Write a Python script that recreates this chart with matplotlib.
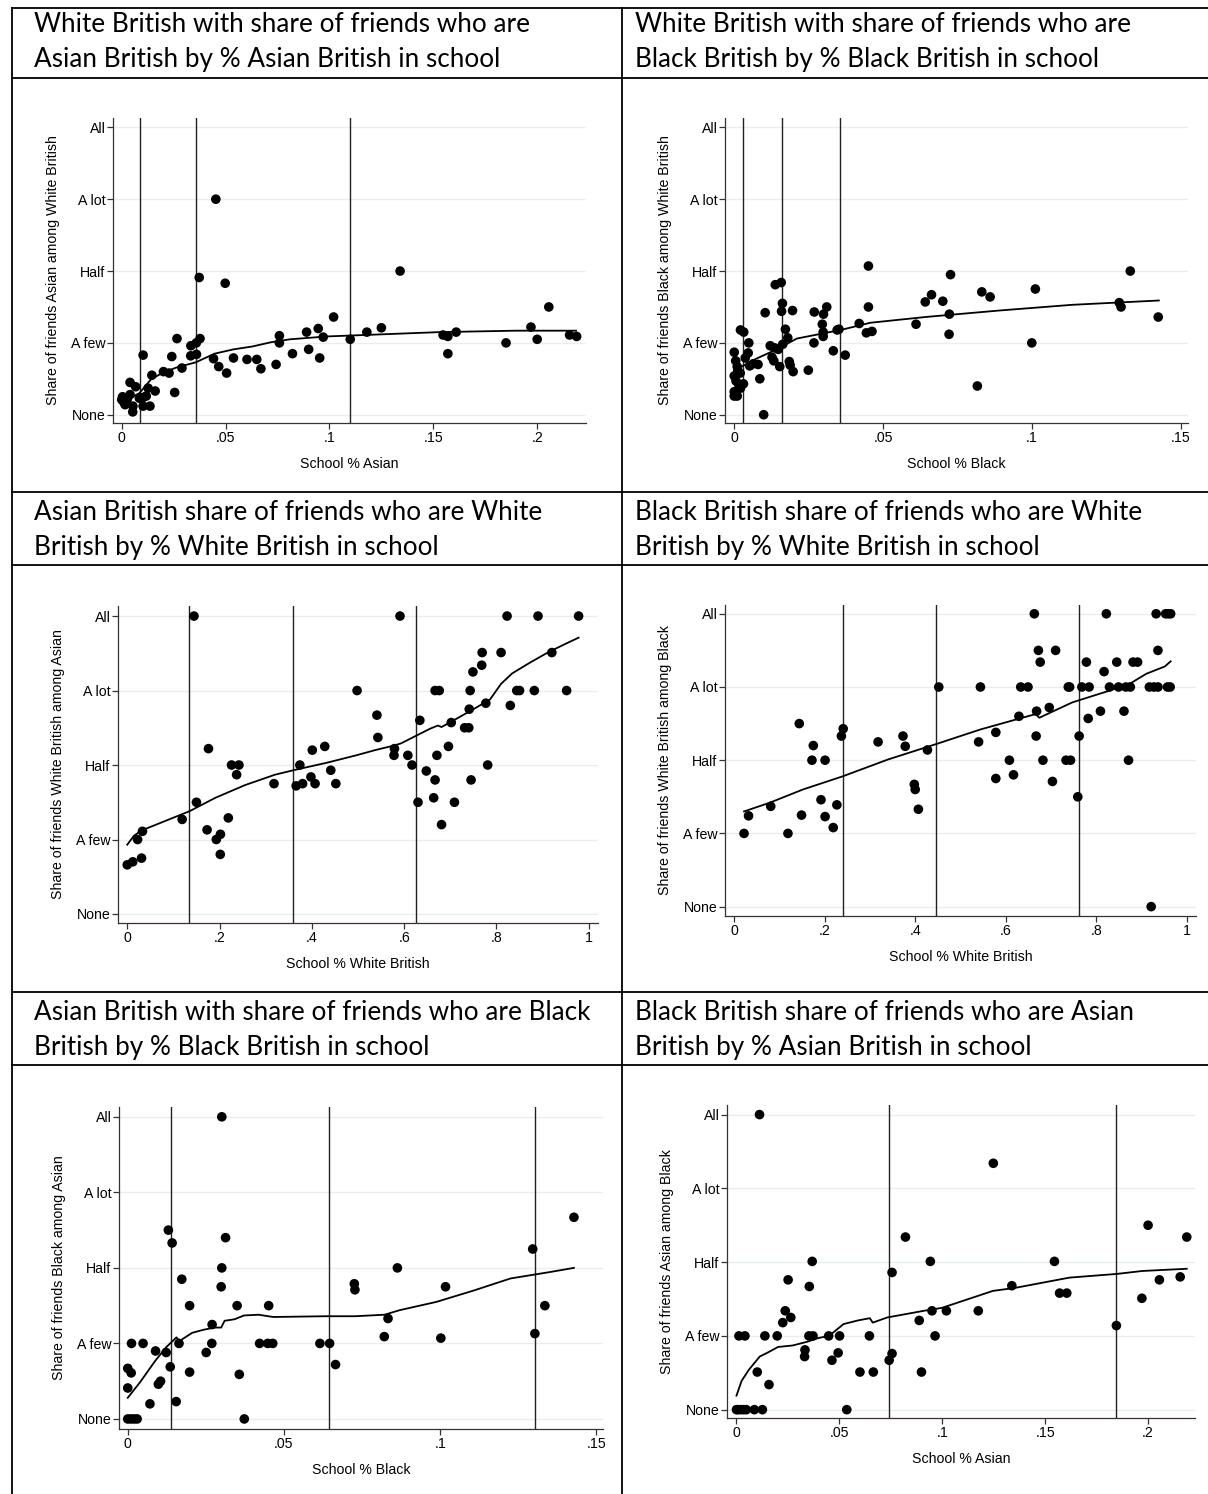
import matplotlib
matplotlib.use("Agg")
import matplotlib.pyplot as plt
from matplotlib.lines import Line2D

# ---------------- data ----------------
ylevels = [1, 2, 3, 4, 5]
ylevel_labels = ["None", "A few", "Half", "A lot", "All"]

# Panel 1: White British, share of friends Asian, by school % Asian
p1_x = [0.0453, 0.0373, 0.0498, 0.134, 0.2056, 0.102, 0.125, 0.118, 0.0946, 0.089, 0.097, 0.110,
        0.0759, 0.0759, 0.1547, 0.157, 0.161, 0.157, 0.185, 0.197, 0.200, 0.2156, 0.219, 0.0822,
        0.090, 0.0953, 0.0743, 0.067, 0.065, 0.0603, 0.0538, 0.0505, 0.0467, 0.0442, 0.0377, 0.0359,
        0.0333, 0.036, 0.0332, 0.0266, 0.0241, 0.029, 0.0228, 0.0201, 0.0145, 0.0103, 0.0255, 0.0161,
        0.0127, 0.0118, 0.0103, 0.0136, 0.0103, 0.004, 0.0067, 0.004, 0.0054, 0.0053, 0.0004, 0.0009,
        0.0016, 0.0, 0.0085, 0.0027]
p1_y = [4.0, 2.91, 2.83, 3.0, 2.50, 2.36, 2.21, 2.15, 2.20, 2.15, 2.08, 2.05,
        2.10, 2.0, 2.11, 2.09, 2.15, 1.85, 2.0, 2.22, 2.05, 2.11, 2.09, 1.85,
        1.91, 1.79, 1.70, 1.64, 1.77, 1.77, 1.79, 1.58, 1.67, 1.78, 2.06, 2.0,
        1.96, 1.84, 1.82, 2.06, 1.81, 1.65, 1.58, 1.60, 1.55, 1.83, 1.31, 1.33,
        1.37, 1.26, 1.24, 1.12, 1.12, 1.45, 1.39, 1.28, 1.12, 1.04, 1.25, 1.18,
        1.14, 1.21, 1.23, 1.22]
p1_vlines = [0.0087, 0.0359, 0.110]
p1_fit_x = [0.0, 0.0031, 0.0085, 0.014, 0.0194, 0.0266, 0.0357, 0.0447, 0.0538, 0.0629, 0.072,
            0.081, 0.090, 0.099, 0.117, 0.135, 0.153, 0.1716, 0.19, 0.2187]
p1_fit_y = [1.16, 1.22, 1.30, 1.49, 1.58, 1.66, 1.73, 1.85, 1.91, 1.95, 2.01,
            2.05, 2.07, 2.09, 2.11, 2.13, 2.15, 2.16, 2.17, 2.17]

# Panel 2: White British, share of friends Black, by school % Black
p2_x = [0.0451, 0.0727, 0.1331, 0.1012, 0.0832, 0.0860, 0.0663, 0.0642, 0.0701, 0.1294, 0.130,
        0.1425, 0.0723, 0.0611, 0.0722, 0.100, 0.0817, 0.0451, 0.042, 0.0463, 0.0444, 0.0352,
        0.0346, 0.0333, 0.0373, 0.0311, 0.030, 0.0269, 0.0296, 0.0299, 0.0299, 0.0268, 0.0249,
        0.0138, 0.0158, 0.0162, 0.0159, 0.0196, 0.0104, 0.0172, 0.018, 0.0163, 0.0121, 0.0136,
        0.0148, 0.0127, 0.0133, 0.0153, 0.0185, 0.0188, 0.0198, 0.0086, 0.0099, 0.0021, 0.0032,
        0.0049, 0.0047, 0.0037, 0.0052, 0.0064, 0.008, 0.0, 0.0005, 0.001, 0.0012, 0.0, 0.002,
        0.0006, 0.0015, 0.0031, 0.0, 0.0, 0.001, 0.0021]
p2_y = [3.07, 2.95, 3.0, 2.75, 2.71, 2.64, 2.67, 2.57, 2.58, 2.56, 2.50,
        2.36, 2.40, 2.26, 2.12, 2.0, 1.40, 2.50, 2.27, 2.16, 2.14, 2.19,
        2.18, 1.89, 1.83, 2.50, 2.40, 2.43, 2.26, 2.15, 2.09, 2.0, 1.62,
        2.81, 2.84, 2.55, 2.44, 2.45, 2.42, 2.19, 2.07, 1.98, 1.96, 1.93,
        1.91, 1.80, 1.75, 1.67, 1.74, 1.69, 1.60, 1.50, 1.0, 2.18, 2.15,
        2.0, 1.86, 1.79, 1.68, 1.71, 1.70, 1.87, 1.75, 1.67, 1.61, 1.54, 1.58,
        1.47, 1.42, 1.43, 1.32, 1.26, 1.26, 1.37]
p2_vlines = [0.0028, 0.016, 0.0356]
p2_fit_x = [0.0003, 0.0025, 0.0074, 0.0148, 0.021, 0.0296, 0.0358, 0.0457, 0.0642, 0.0889,
            0.1136, 0.1427]
p2_fit_y = [1.58, 1.67, 1.78, 1.92, 2.06, 2.13, 2.18, 2.28, 2.36, 2.45, 2.53, 2.59]

# Panel 3: Asian British, share of friends White British, by school % White British
p3_x = [0.1446, 0.591, 0.823, 0.890, 0.978, 0.769, 0.810, 0.920, 0.768, 0.749, 0.498, 0.667,
        0.676, 0.743, 0.844, 0.850, 0.882, 0.952, 0.777, 0.830, 0.741, 0.541, 0.634, 0.702,
        0.731, 0.740, 0.543, 0.176, 0.401, 0.428, 0.696, 0.579, 0.578, 0.608, 0.671, 0.226,
        0.242, 0.374, 0.617, 0.781, 0.237, 0.441, 0.648, 0.398, 0.318, 0.366, 0.380, 0.407,
        0.452, 0.667, 0.745, 0.150, 0.630, 0.709, 0.664, 0.119, 0.219, 0.681, 0.173, 0.033,
        0.202, 0.193, 0.0225, 0.2016, 0.031, 0.012, 0.0]
p3_y = [5.0, 5.0, 5.0, 5.0, 5.0, 4.51, 4.51, 4.51, 4.34, 4.25, 4.0, 4.0,
        4.0, 4.0, 4.0, 4.0, 4.0, 4.0, 3.83, 3.80, 3.75, 3.67, 3.60, 3.57,
        3.50, 3.50, 3.37, 3.22, 3.20, 3.25, 3.25, 3.22, 3.13, 3.13, 3.13, 3.0,
        3.0, 3.0, 3.0, 3.0, 2.87, 2.93, 2.92, 2.84, 2.75, 2.72, 2.75, 2.75,
        2.75, 2.80, 2.80, 2.50, 2.50, 2.50, 2.56, 2.27, 2.29, 2.20, 2.13, 2.11,
        2.07, 2.0, 2.0, 1.80, 1.75, 1.70, 1.66]
p3_vlines = [0.134, 0.360, 0.625]
p3_fit_x = [0.0, 0.0145, 0.0305, 0.0707, 0.135, 0.191, 0.255, 0.320, 0.360, 0.432, 0.496, 0.537,
            0.577, 0.593, 0.625, 0.657, 0.673, 0.681, 0.713, 0.753, 0.786, 0.810, 0.834, 0.874,
            0.914, 0.954, 0.978]
p3_fit_y = [1.93, 2.05, 2.12, 2.22, 2.38, 2.56, 2.73, 2.87, 2.93, 3.03, 3.13, 3.20,
            3.26, 3.29, 3.39, 3.49, 3.53, 3.51, 3.62, 3.76, 3.88, 4.09, 4.23, 4.38,
            4.52, 4.64, 4.71]

# Panel 4: Black British, share of friends White British, by school % White British
p4_x = [0.663, 0.822, 0.932, 0.953, 0.959, 0.964, 0.672, 0.710, 0.936, 0.676, 0.778, 0.845,
        0.881, 0.891, 0.817, 0.452, 0.544, 0.633, 0.649, 0.738, 0.741, 0.768, 0.784, 0.829,
        0.849, 0.865, 0.875, 0.917, 0.927, 0.936, 0.957, 0.963, 0.696, 0.668, 0.809, 0.861,
        0.629, 0.782, 0.144, 0.241, 0.237, 0.373, 0.578, 0.667, 0.762, 0.318, 0.540, 0.175,
        0.378, 0.427, 0.172, 0.201, 0.608, 0.682, 0.733, 0.743, 0.871, 0.617, 0.578, 0.703,
        0.398, 0.400, 0.759, 0.192, 0.227, 0.081, 0.407, 0.032, 0.149, 0.201, 0.219, 0.022,
        0.119, 0.921]
p4_y = [5.0, 5.0, 5.0, 5.0, 5.0, 5.0, 4.50, 4.50, 4.50, 4.34, 4.34, 4.34,
        4.34, 4.34, 4.21, 4.0, 4.0, 4.0, 4.0, 4.0, 4.0, 4.0, 4.0, 4.0,
        4.0, 4.0, 4.0, 4.0, 4.0, 4.0, 4.0, 4.0, 3.72, 3.67, 3.67, 3.67,
        3.60, 3.57, 3.50, 3.43, 3.33, 3.33, 3.38, 3.33, 3.33, 3.25, 3.25, 3.20,
        3.19, 3.14, 3.0, 3.0, 3.0, 3.0, 3.0, 3.0, 3.0, 2.80, 2.75, 2.71,
        2.67, 2.60, 2.50, 2.46, 2.39, 2.37, 2.33, 2.24, 2.25, 2.23, 2.08, 2.0,
        2.0, 1.0]
p4_vlines = [0.240, 0.446, 0.762]
p4_fit_x = [0.022, 0.079, 0.152, 0.240, 0.340, 0.446, 0.544, 0.625, 0.666, 0.674, 0.747, 0.829,
            0.878, 0.910, 0.951, 0.964]
p4_fit_y = [2.30, 2.42, 2.60, 2.78, 3.01, 3.22, 3.42, 3.56, 3.63, 3.58, 3.79, 3.95,
            4.06, 4.18, 4.28, 4.35]

# Panel 5: Asian British, share of friends Black, by school % Black
p5_x = [0.0301, 0.1428, 0.013, 0.0142, 0.0313, 0.1296, 0.0301, 0.0863, 0.0173, 0.0725, 0.0727,
        0.0299, 0.1017, 0.0198, 0.035, 0.0451, 0.1335, 0.0833, 0.027, 0.0821, 0.1002, 0.1303,
        0.0012, 0.0049, 0.0164, 0.0269, 0.0422, 0.0448, 0.0464, 0.0615, 0.0646, 0.0089, 0.0123,
        0.0251, 0.0136, 0.0665, 0.0, 0.0011, 0.0198, 0.0357, 0.0105, 0.0098, 0.0, 0.0071, 0.0155,
        0.0373, 0.0, 0.001, 0.002, 0.003]
p5_y = [5.0, 3.67, 3.50, 3.33, 3.40, 3.25, 3.0, 3.0, 2.85, 2.79, 2.71,
        2.75, 2.75, 2.50, 2.50, 2.50, 2.50, 2.33, 2.25, 2.09, 2.07, 2.13,
        2.0, 2.0, 2.0, 2.0, 2.0, 2.0, 2.0, 2.0, 2.0, 1.90, 1.88,
        1.88, 1.69, 1.72, 1.67, 1.61, 1.62, 1.59, 1.50, 1.46, 1.41, 1.20, 1.23,
        1.0, 1.0, 1.0, 1.0, 1.0]
p5_vlines = [0.0137, 0.0645, 0.1303]
p5_fit_x = [0.0, 0.004, 0.0088, 0.0123, 0.0156, 0.0165, 0.0206, 0.0242, 0.0277, 0.0299, 0.031,
            0.0342, 0.0372, 0.0419, 0.0449, 0.0467, 0.0633, 0.0728, 0.0822, 0.087, 0.0988,
            0.1107, 0.1225, 0.1344, 0.1428]
p5_fit_y = [1.28, 1.49, 1.77, 1.95, 2.08, 2.03, 2.14, 2.18, 2.21, 2.21, 2.30,
            2.32, 2.37, 2.38, 2.36, 2.35, 2.36, 2.36, 2.38, 2.44, 2.55,
            2.70, 2.86, 2.94, 3.0]

# Panel 6: Black British, share of friends Asian, by school % Asian
p6_x = [0.0112, 0.1248, 0.200, 0.2188, 0.0821, 0.0368, 0.0942, 0.1545, 0.0756, 0.0251, 0.2055,
        0.2156, 0.0354, 0.1338, 0.157, 0.1605, 0.197, 0.0237, 0.095, 0.102, 0.1175, 0.0264,
        0.0225, 0.0888, 0.1846, 0.0012, 0.0041, 0.0138, 0.0198, 0.0352, 0.0372, 0.0448, 0.0501,
        0.0646, 0.0965, 0.0333, 0.0331, 0.0494, 0.0464, 0.0756, 0.0742, 0.0101, 0.060, 0.0665,
        0.0899, 0.0158, 0.0536, 0.0, 0.0007, 0.0021, 0.0035, 0.0048, 0.0087, 0.0126]
p6_y = [5.0, 4.34, 3.50, 3.34, 3.34, 3.01, 3.01, 3.01, 2.86, 2.76, 2.76,
        2.80, 2.67, 2.68, 2.58, 2.58, 2.51, 2.34, 2.34, 2.34, 2.34, 2.25,
        2.18, 2.21, 2.14, 2.0, 2.0, 2.0, 2.0, 2.0, 2.0, 2.0, 2.0,
        2.0, 2.0, 1.81, 1.72, 1.77, 1.67, 1.76, 1.67, 1.51, 1.51, 1.51,
        1.51, 1.34, 1.0, 1.0, 1.0, 1.0, 1.0, 1.0, 1.0, 1.0]
p6_vlines = [0.0742, 0.1846]
p6_fit_x = [0.0, 0.0025, 0.006, 0.0113, 0.0149, 0.0202, 0.0273, 0.0343, 0.0396, 0.045, 0.052,
            0.0591, 0.0648, 0.0662, 0.0733, 0.091, 0.0998, 0.1246, 0.1352, 0.1618, 0.1848,
            0.1972, 0.2188]
p6_fit_y = [1.19, 1.39, 1.54, 1.72, 1.77, 1.85, 1.87, 1.92, 1.97, 2.0, 2.16,
            2.21, 2.24, 2.18, 2.25, 2.34, 2.38, 2.61, 2.65, 2.79, 2.84,
            2.88, 2.91]

ticks_small = [0, 0.05, 0.1, 0.15]
ticks_small_lbl = ["0", ".05", ".1", ".15"]
ticks_asian = [0, 0.05, 0.1, 0.15, 0.2]
ticks_asian_lbl = ["0", ".05", ".1", ".15", ".2"]
ticks_white = [0, 0.2, 0.4, 0.6, 0.8, 1.0]
ticks_white_lbl = ["0", ".2", ".4", ".6", ".8", "1"]

titles = [
    ("White British with share of friends who are", "Asian British by % Asian British in school"),
    ("White British with share of friends who are", "Black British by % Black British in school"),
    ("Asian British share of friends who are White", "British by % White British in school"),
    ("Black British share of friends who are White", "British by % White British in school"),
    ("Asian British with share of friends who are Black", "British by % Black British in school"),
    ("Black British share of friends who are Asian", "British by % Asian British in school"),
]

# ---------------- layout ----------------
W, H = 1208, 1494
fig = plt.figure(figsize=(W / 100, H / 100), dpi=100)
fig.patch.set_facecolor("white")

bg = fig.add_axes([0, 0, 1, 1], zorder=0)
bg.set_xlim(0, W)
bg.set_ylim(H, 0)
bg.axis("off")

left_b, mid_b, right_b = 12, 622, 1208
hlines = [8, 78, 492, 565, 992, 1065]
for yy in hlines:
    bg.add_line(Line2D([left_b, right_b], [yy, yy], color="black", lw=1.3))
for xx in [left_b, mid_b]:
    bg.add_line(Line2D([xx, xx], [8, H], color="black", lw=1.3))

title_rows = [(25, 60), (512, 548), (1012, 1048)]
title_font = ["Lato", "DejaVu Sans"]
for i, (l1, l2) in enumerate(titles):
    r, c = divmod(i, 2)
    x0 = 34 if c == 0 else 635
    y1, y2 = title_rows[r]
    bg.text(x0, y1, l1, fontsize=18.8, family=title_font, va="center", ha="left", color="black")
    bg.text(x0, y2, l2, fontsize=18.8, family=title_font, va="center", ha="left", color="black")

FS = 10.2
SANS = ["Liberation Sans", "DejaVu Sans"]

def add_panel(box, xlim, ylim, xs, ys, vlines, fx, fy, xticks, xticklbl, xlabel, ylabel):
    l, r, t, b = box
    ax = fig.add_axes([l / W, 1 - b / H, (r - l) / W, (b - t) / H], zorder=2)
    ax.set_xlim(*xlim)
    ax.set_ylim(*ylim)
    ax.set_facecolor("none")
    for s in ["top", "right"]:
        ax.spines[s].set_visible(False)
    for s in ["left", "bottom"]:
        ax.spines[s].set_color("#333333")
        ax.spines[s].set_linewidth(0.9)
    ax.set_yticks(ylevels)
    ax.set_yticklabels(ylevel_labels)
    ax.set_xticks(xticks)
    ax.set_xticklabels(xticklbl)
    ax.tick_params(axis="both", length=4, width=0.9, color="#333333", labelsize=FS,
                   labelcolor="black", pad=1.5)
    for lab in ax.get_xticklabels() + ax.get_yticklabels():
        lab.set_family(SANS)
    ax.grid(axis="y", color="#e6eef0", lw=1.0)
    ax.set_axisbelow(True)
    for v in vlines:
        ax.axvline(v, color="#222222", lw=1.0, zorder=2)
    ax.scatter(xs, ys, s=48, color="black", edgecolors="none", zorder=3)
    ax.plot(fx, fy, color="black", lw=1.3, zorder=4)
    ax.set_xlabel(xlabel, fontsize=FS, family=SANS, labelpad=9)
    ax.set_ylabel(ylabel, fontsize=FS, family=SANS, labelpad=8)
    return ax

add_panel((113, 586, 118, 423), (-0.0042, 0.2235), (0.885, 5.13), p1_x, p1_y, p1_vlines,
          p1_fit_x, p1_fit_y, ticks_asian, ticks_asian_lbl, "School % Asian",
          "Share of friends Asian among White British")
add_panel((725, 1188, 118, 423), (-0.0031, 0.1525), (0.885, 5.13), p2_x, p2_y, p2_vlines,
          p2_fit_x, p2_fit_y, ticks_small, ticks_small_lbl, "School % Black",
          "Share of friends Black among White British")
add_panel((118, 598, 606, 923), (-0.020, 1.020), (0.879, 5.135), p3_x, p3_y, p3_vlines,
          p3_fit_x, p3_fit_y, ticks_white, ticks_white_lbl, "School % White British",
          "Share of friends White British among Asian")
add_panel((725, 1196, 605, 916), (-0.020, 1.020), (0.872, 5.12), p4_x, p4_y, p4_vlines,
          p4_fit_x, p4_fit_y, ticks_white, ticks_white_lbl, "School % White British",
          "Share of friends White British among Black")
add_panel((119, 603, 1107, 1429), (-0.0028, 0.1521), (0.867, 5.13), p5_x, p5_y, p5_vlines,
          p5_fit_x, p5_fit_y, ticks_small, ticks_small_lbl, "School % Black",
          "Share of friends Black among Asian")
add_panel((727, 1195, 1105, 1418), (-0.0046, 0.2228), (0.887, 5.13), p6_x, p6_y, p6_vlines,
          p6_fit_x, p6_fit_y, ticks_asian, ticks_asian_lbl, "School % Asian",
          "Share of friends Asian among Black")

fig.savefig("out.png", dpi=100, facecolor="white")
